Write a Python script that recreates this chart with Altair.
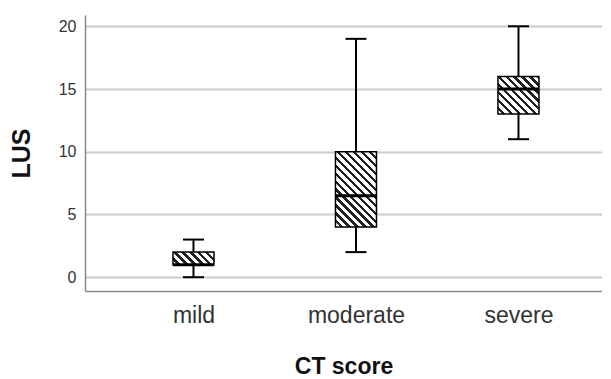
import math
import altair as alt
import pandas as pd

categories = ["mild", "moderate", "severe"]
whisker_low = [0, 2, 11]
q1 = [1, 4, 13]
median = [1, 6.5, 15]
q3 = [2, 10, 16]
whisker_high = [3, 19, 20]
y_ticks = [0, 5, 10, 15, 20]

df = pd.DataFrame({
    "cat": categories,
    "lo": whisker_low,
    "q1": q1,
    "med": median,
    "q3": q3,
    "hi": whisker_high,
})

PLOT_W = 517
PLOT_H = 276
Y_MIN, Y_MAX = -1.1, 20.9
BOX_W = 41
CAP_W = 21
px_per_unit = PLOT_H / (Y_MAX - Y_MIN)


def hatch(w, h, period=5.6, dark=0.42, ink="#222222"):
    L = (w + h) / math.sqrt(2)
    s = (w + h) / (w * w + h * h)
    x2 = s * w
    y2 = 1 - s * h
    stops = []
    i = 0
    while i * period < L:
        o0 = min(1.0, i * period / L)
        o1 = min(1.0, (i * period + period * (1 - dark)) / L)
        o2 = min(1.0, (i + 1) * period / L)
        stops += [
            {"offset": o0, "color": "white"},
            {"offset": o1, "color": "white"},
            {"offset": o1, "color": ink},
            {"offset": o2, "color": ink},
        ]
        i += 1
    return {"gradient": "linear", "x1": 0, "y1": 1, "x2": x2, "y2": y2, "stops": stops}


x_enc = alt.X(
    "cat:N",
    sort=categories,
    scale=alt.Scale(type="point", padding=0.5908, align=0.565),
    axis=alt.Axis(
        title="CT score",
        labelAngle=0,
        ticks=False,
        labelFontSize=23,
        labelColor="#333333",
        labelPadding=13,
        titleFontSize=23,
        titleFontWeight="bold",
        titleColor="#111111",
        titlePadding=28,
        domainColor="#8a8a8a",
        domainWidth=1.5,
        grid=False,
    ),
)

y_scale = alt.Scale(domain=[Y_MIN, Y_MAX], nice=False, zero=False)
y_axis = alt.Axis(
    title="LUS",
    values=y_ticks,
    ticks=False,
    labelPadding=9,
    labelFontSize=16,
    labelColor="#333333",
    titleFontSize=25,
    titleFontWeight="bold",
    titleColor="#111111",
    titlePadding=24,
    domainColor="#8a8a8a",
    domainWidth=1.5,
    grid=True,
    gridColor="#cccccc",
    gridWidth=2,
)

base = alt.Chart(df)

lower_whisker = base.mark_rule(color="black", strokeWidth=2).encode(
    x=x_enc, y=alt.Y("lo:Q", scale=y_scale, axis=y_axis), y2="q1:Q"
)
upper_whisker = base.mark_rule(color="black", strokeWidth=2).encode(
    x=x_enc, y=alt.Y("q3:Q", scale=y_scale), y2="hi:Q"
)
caps_lo = base.mark_tick(color="black", thickness=2, size=CAP_W, opacity=1).encode(
    x=x_enc, y=alt.Y("lo:Q", scale=y_scale)
)
caps_hi = base.mark_tick(color="black", thickness=2, size=CAP_W, opacity=1).encode(
    x=x_enc, y=alt.Y("hi:Q", scale=y_scale)
)

boxes = []
for c, a, b in zip(categories, q1, q3):
    h = (b - a) * px_per_unit
    boxes.append(
        base.transform_filter(alt.datum.cat == c)
        .mark_bar(size=BOX_W, fill=hatch(BOX_W, h), stroke="black", strokeWidth=1.5, opacity=1)
        .encode(x=x_enc, y=alt.Y("q1:Q", scale=y_scale), y2="q3:Q")
    )

medians = base.mark_tick(color="black", thickness=3, size=BOX_W, opacity=1).encode(
    x=x_enc, y=alt.Y("med:Q", scale=y_scale)
)

chart = (
    alt.layer(lower_whisker, upper_whisker, caps_lo, caps_hi, *boxes, medians)
    .properties(width=PLOT_W, height=PLOT_H, padding={"left": 1, "top": 7, "right": 0, "bottom": 0})
    .configure(font="Liberation Sans")
    .configure_view(stroke=None)
    .configure_axis(labelFont="Liberation Sans", titleFont="Liberation Sans")
)

chart.save("out.html", embed_options={"renderer": "svg", "actions": False})
